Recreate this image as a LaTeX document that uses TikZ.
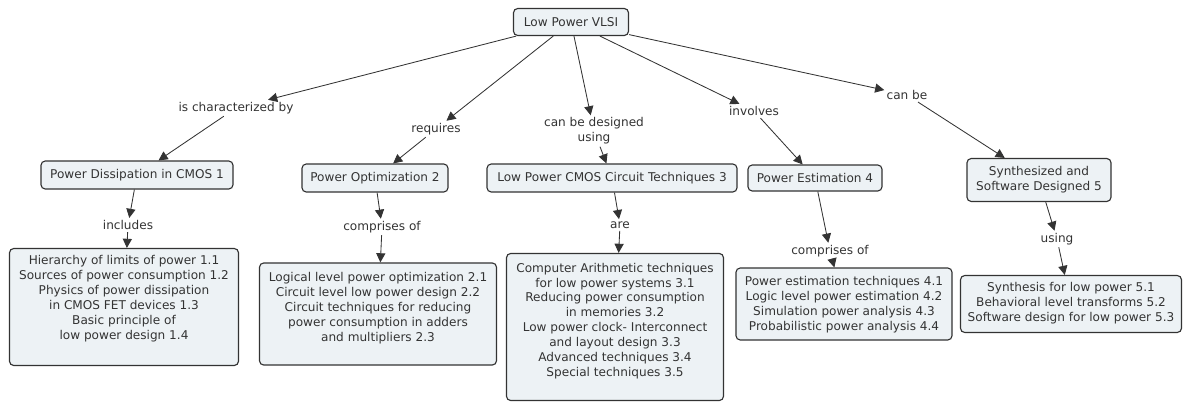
\documentclass[tikz,border=0pt]{standalone}
\usepackage{fontspec}
\setmainfont{DejaVu Sans}
\usetikzlibrary{arrows.meta, positioning}
\definecolor{ink}{HTML}{333333}
\definecolor{paper}{HTML}{EDF2F5}
\newcommand{\pxu}{0.025cm}

\begin{document}
\begin{tikzpicture}[
    x=\pxu, y=-\pxu,
    every node/.style={font=\fontsize{8.6}{10.6}\selectfont, text=ink},
    concept/.style={rectangle, rounded corners=3pt, draw=ink, line width=0.8pt, fill=paper, inner sep=0pt, align=center},
    detail/.style={concept, inner xsep=0pt, inner ysep=0pt},
    link/.style={fill=white, inner sep=1.5pt, align=center},
    edge/.style={-{Triangle[length=6.5pt,width=6.5pt]}, draw=ink, line width=0.6pt}
]
\useasboundingbox (0,0) rectangle (1183,401);

% Root concept
\node[concept, minimum width=115*\pxu, minimum height=27*\pxu] (vlsi) at (571,22) {Low Power VLSI};

% Linking phrases from the root
\node[link] (charby) at (236,108) {is characterized by};
\node[link] (requires) at (436,129) {requires};
\node[link] (designed) at (594,131) {can be designed\\using};
\node[link] (involves) at (754,111) {involves};
\node[link] (canbe) at (907,95) {can be};

% Main topics
\node[concept, minimum width=192*\pxu, minimum height=28*\pxu] (dissip) at (137,175) {Power Dissipation in CMOS 1};
\node[concept, minimum width=146*\pxu, minimum height=28*\pxu] (optim) at (375,178) {Power Optimization 2};
\node[concept, minimum width=250*\pxu, minimum height=28*\pxu] (circuit) at (612,178) {Low Power CMOS Circuit Techniques 3};
\node[concept, minimum width=134*\pxu, minimum height=26*\pxu] (estim) at (815,178) {Power Estimation 4};
\node[concept, minimum width=144*\pxu, minimum height=43*\pxu] (synth) at (1039,180) {Synthesized and\\Software Designed 5};

% Linking phrases to the details
\node[link] (includes) at (128,225) {includes};
\node[link] (comprA) at (382,227) {comprises of};
\node[link] (are) at (620,225) {are};
\node[link] (comprB) at (830,251) {comprises of};
\node[link] (using) at (1057,239) {using};

% Detail boxes (text sits high, extra room below)
\node[detail, minimum width=229*\pxu, text height=64.7pt, text depth=18.5pt] (dissipList) at (124,307)
  {Hierarchy of limits of power 1.1\\Sources of power consumption 1.2\\Physics of power dissipation\\in CMOS FET devices 1.3\\Basic principle of\\low power design 1.4};
\node[detail, minimum width=237*\pxu, text height=55.5pt, text depth=17.1pt] (optimList) at (378,314)
  {Logical level power optimization 2.1\\Circuit level low power design 2.2\\Circuit techniques for reducing\\power consumption in adders\\and multipliers 2.3};
\node[detail, minimum width=217*\pxu, text height=87.5pt, text depth=17.1pt] (circuitList) at (615,327)
  {Computer Arithmetic techniques\\for low power systems 3.1\\Reducing power consumption\\in memories 3.2\\Low power clock- Interconnect\\and layout design 3.3\\Advanced techniques 3.4\\Special techniques 3.5};
\node[detail, minimum width=216*\pxu, text height=44.1pt, text depth=7.1pt] (estimList) at (844,304)
  {Power estimation techniques 4.1\\Logic level power estimation 4.2\\Simulation power analysis 4.3\\Probabilistic power analysis 4.4};
\node[detail, minimum width=221*\pxu, text height=32.7pt, text depth=7.8pt] (synthList) at (1071,304)
  {Synthesis for low power 5.1\\Behavioral level transforms 5.2\\Software design for low power 5.3};

% Connections
\draw[edge] (vlsi) -- (charby);
\draw[edge] (charby) -- (dissip);
\draw[edge] (vlsi) -- (requires);
\draw[edge] (requires) -- (optim);
\draw[edge] (vlsi) -- (designed);
\draw[edge] (designed) -- (circuit);
\draw[edge] (vlsi) -- (involves);
\draw[edge] (involves) -- (estim);
\draw[edge] (vlsi) -- (canbe);
\draw[edge] (canbe) -- (synth);

\draw[edge] (dissip) -- (includes);
\draw[edge] (includes) -- (dissipList);
\draw[edge] (optim) -- (comprA);
\draw[edge] (comprA) -- (optimList);
\draw[edge] (circuit) -- (are);
\draw[edge] (are) -- (circuitList);
\draw[edge] (estim) -- (comprB);
\draw[edge] (comprB) -- (estimList);
\draw[edge] (synth) -- (using);
\draw[edge] (using) -- (synthList);

\end{tikzpicture}
\end{document}
